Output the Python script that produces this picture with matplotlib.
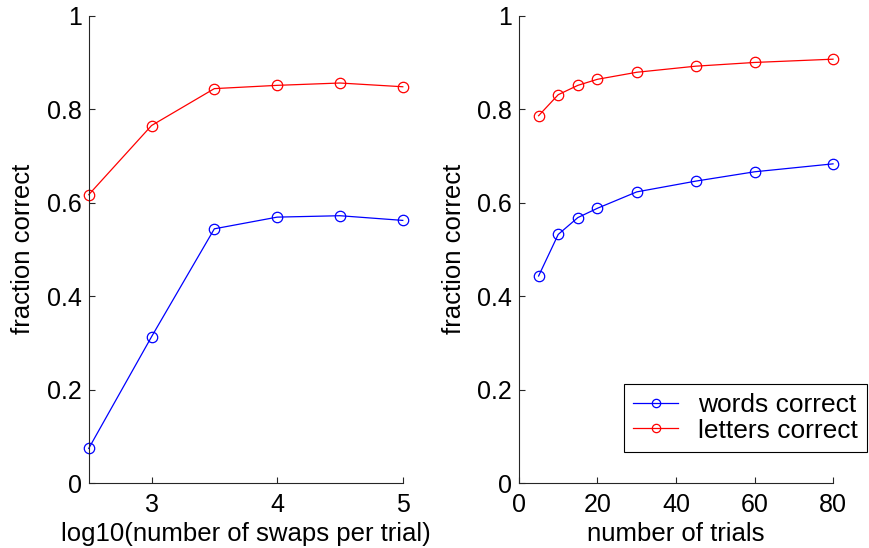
import numpy as np
import matplotlib
matplotlib.use('Agg')
import matplotlib.pyplot as plt

# left panel: log10(number of swaps per trial)
swaps_log = [2.5, 3.0, 3.5, 4.0, 4.5, 5.0]
swaps_words = [0.074, 0.313, 0.544, 0.569, 0.572, 0.562]
swaps_letters = [0.617, 0.765, 0.844, 0.851, 0.856, 0.848]

# right panel: number of trials
trials = [5, 10, 15, 20, 30, 45, 60, 80]
trials_words = [0.443, 0.532, 0.568, 0.588, 0.623, 0.646, 0.666, 0.683]
trials_letters = [0.786, 0.831, 0.851, 0.864, 0.879, 0.892, 0.900, 0.907]

y_ticks = [0, 0.2, 0.4, 0.6, 0.8, 1]

plt.rcParams['font.family'] = ['Liberation Sans', 'DejaVu Sans']
TICK_FS = 18
LABEL_FS = 18.5
LEGEND_FS = 19


def style_axes(ax):
    """MATLAB-ish look: box off, ticks pointing in."""
    ax.spines['top'].set_visible(False)
    ax.spines['right'].set_visible(False)
    for s in ('left', 'bottom'):
        ax.spines[s].set_linewidth(0.8)
        ax.spines[s].set_color('#262626')
    ax.tick_params(direction='in', length=4, width=0.8, labelsize=TICK_FS,
                   color='#262626')
    ax.tick_params(axis='y', pad=5)
    ax.tick_params(axis='x', pad=7)
    ax.set_ylim(0, 1)
    ax.set_yticks(y_ticks)
    ax.set_yticklabels(['%g' % t for t in y_ticks])
    ax.set_ylabel('fraction correct', fontsize=LABEL_FS, va='center')
    ax.yaxis.set_label_coords(-0.208, 0.5)


def plot_pair(ax, x, words, letters):
    kw = dict(marker='o', markerfacecolor='none', markersize=7.5,
              linewidth=0.9, markeredgewidth=0.9, clip_on=False)
    ax.plot(x, words, color='#0000ff', label='words correct', **kw)
    ax.plot(x, letters, color='#ff0000', label='letters correct', **kw)


fig = plt.figure(figsize=(8.69, 5.48), dpi=100)
ax1 = fig.add_axes([0.1021, 0.1186, 0.3614, 0.8527])
ax2 = fig.add_axes([0.5972, 0.1186, 0.3614, 0.8527])

plot_pair(ax1, swaps_log, swaps_words, swaps_letters)
style_axes(ax1)
ax1.set_xlim(2.5, 5)
ax1.set_xticks([3, 4, 5])
ax1.set_xlabel('log10(number of swaps per trial)', fontsize=LABEL_FS, va='center')
ax1.xaxis.set_label_coords(0.5, -0.109)

plot_pair(ax2, trials, trials_words, trials_letters)
style_axes(ax2)
ax2.set_xlim(0, 80)
ax2.set_xticks([0, 20, 40, 60, 80])
ax2.set_xlabel('number of trials', fontsize=LABEL_FS, va='center')
ax2.xaxis.set_label_coords(0.5, -0.109)

leg = ax2.legend(loc='upper left', bbox_to_anchor=(624 / 869, 1 - 384 / 548),
                 bbox_transform=fig.transFigure, frameon=True, fancybox=False,
                 edgecolor='black', framealpha=1, fontsize=LEGEND_FS,
                 handlelength=1.7, borderpad=0.35, labelspacing=0.05,
                 handletextpad=0.75, borderaxespad=0, markerscale=0.8)
leg.get_frame().set_linewidth(0.8)

fig.savefig('out.png', dpi=100)
